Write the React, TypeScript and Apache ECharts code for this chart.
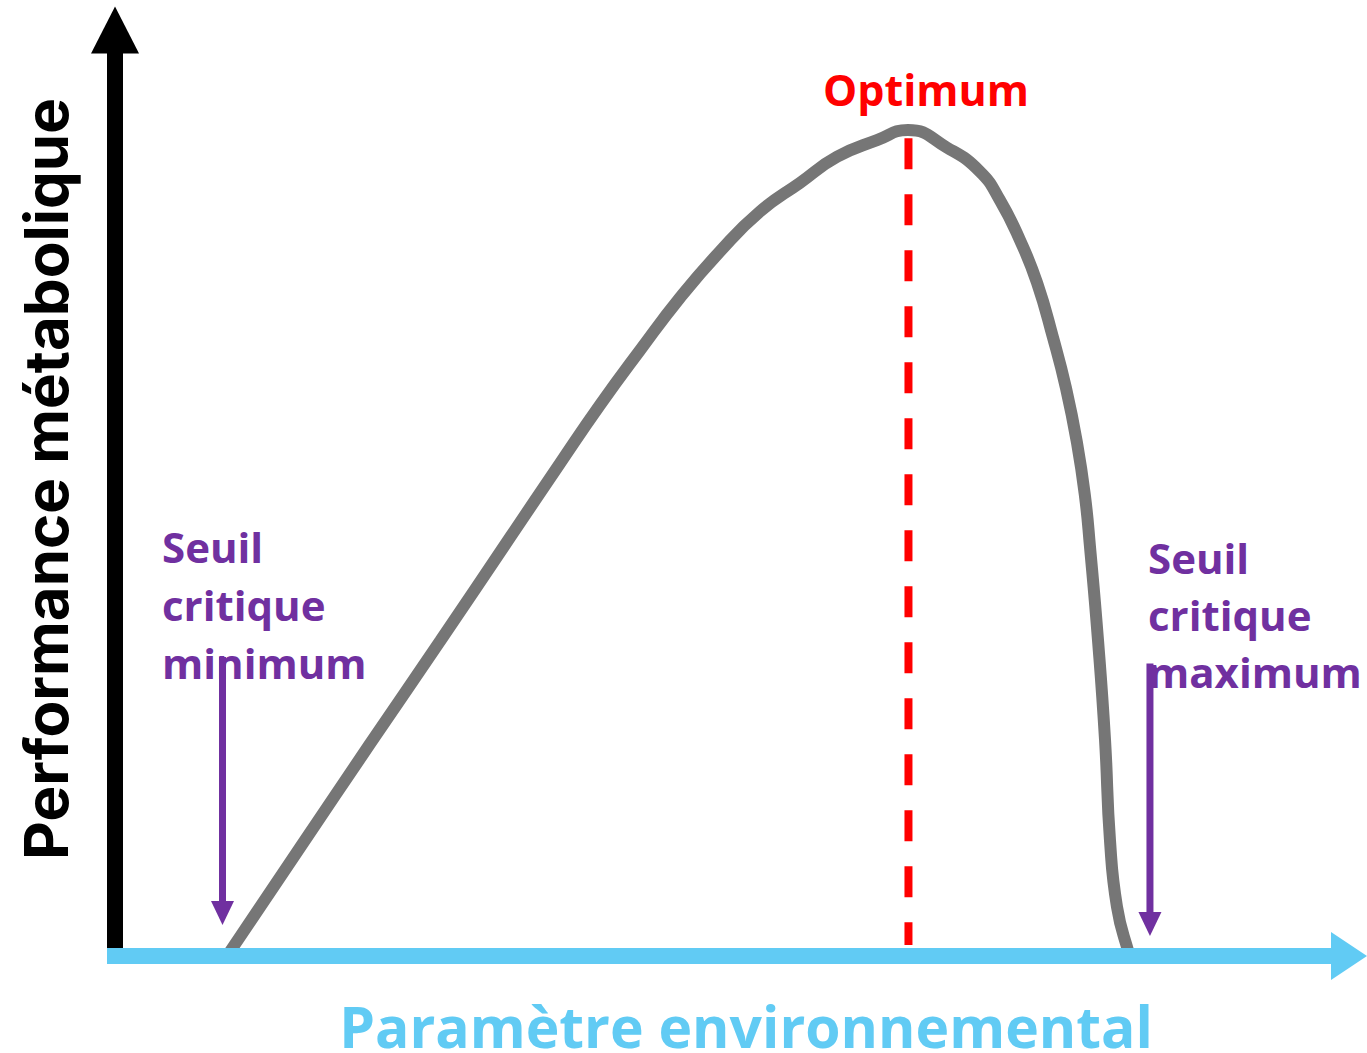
import React, { useEffect, useRef } from "react";
import * as echarts from "echarts";

// Performance curve (x: environmental parameter, y: metabolic performance), 0–100 scales
const curveX = [9.08, 14.99, 20.66, 26.34, 32.01, 36.06, 39.30, 42.54, 45.79, 49.03, 52.27, 55.51, 58.51, 61.75, 64.26, 67.42, 70.10, 71.72, 73.34, 74.72, 76.01, 77.07, 77.96, 78.61, 79.01, 79.66, 80.23, 80.63, 81.20, 82.09, 82.33];
const curveY = [0, 11.7, 22.9, 34.0, 45.2, 53.2, 59.5, 65.4, 71.1, 76.1, 80.4, 83.5, 86.3, 88.1, 89.2, 87.3, 84.7, 81.6, 77.3, 72.7, 66.8, 61.3, 55.4, 49.6, 44.2, 34.1, 23.3, 12.5, 5.3, 0.6, 0];

const optimumX = 64.3;
const optimumYRange = [88.3, 1.2];

const thresholdMinX = 8.71;
const thresholdMaxX = 83.87;
const thresholdMinY = [32.3, 4.64];
const thresholdMaxY = [31.6, 3.46];

const yTitle = "Performance métabolique";
const xTitle = "Paramètre environnemental";
const optimumLabel = "Optimum";
const minLabel = ["Seuil", "critique", "minimum"];
const maxLabel = ["Seuil", "critique", "maximum"];

const PURPLE = "#7030A0";
const BLUE = "#61CBF4";
const GRAY = "#767676";
const RED = "#FF0000";

export default function App() {
  const ref = useRef<HTMLDivElement>(null);
  useEffect(() => {
    if (!ref.current) return;
    const chart = echarts.init(ref.current, null, { renderer: "svg" });
    const curve = curveX.map((x, i) => [x, curveY[i]]);
    const purpleFont = "bold 42px 'Open Sans'";
    const textEls: any[] = [];
    minLabel.forEach((t, i) => {
      textEls.push({
        type: "text",
        x: 162,
        y: 546 + i * 58,
        z: 20,
        style: { text: t, font: purpleFont, fill: PURPLE, align: "left", verticalAlign: "middle" },
      });
    });
    maxLabel.forEach((t, i) => {
      textEls.push({
        type: "text",
        x: 1148,
        y: 557 + i * 57,
        z: 20,
        style: { text: t, font: purpleFont, fill: PURPLE, align: "left", verticalAlign: "middle" },
      });
    });
    chart.setOption({
      animation: false,
      backgroundColor: "#ffffff",
      grid: { left: 107, right: 18, top: 30, bottom: 97, containLabel: false },
      xAxis: {
        type: "value",
        min: -0.65,
        max: 100,
        z: 10,
        axisLine: {
          show: true,
          onZero: true,
          symbol: ["none", "triangle"],
          symbolSize: [48, 36],
          lineStyle: { color: BLUE, width: 16, cap: "butt" },
        },
        axisTick: { show: false },
        axisLabel: { show: false },
        splitLine: { show: false },
      },
      yAxis: {
        type: "value",
        min: 0,
        max: 100,
        z: 5,
        axisLine: {
          show: true,
          onZero: true,
          symbol: ["none", "triangle"],
          symbolSize: [48, 47],
          lineStyle: { color: "#000000", width: 16, cap: "butt" },
        },
        axisTick: { show: false },
        axisLabel: { show: false },
        splitLine: { show: false },
      },
      series: [
        {
          type: "line",
          data: curve,
          smooth: 0.5,
          showSymbol: false,
          symbol: "none",
          z: 3,
          lineStyle: { color: GRAY, width: 12 },
        },
        {
          type: "line",
          data: [[optimumX, optimumYRange[0]], [optimumX, optimumYRange[1]]],
          symbol: "none",
          z: 4,
          lineStyle: { color: RED, width: 8, type: [31, 25] },
        },
        {
          type: "line",
          data: [[thresholdMinX, thresholdMinY[0]], [thresholdMinX, thresholdMinY[1]]],
          symbol: "none",
          z: 4,
          lineStyle: { color: PURPLE, width: 7 },
        },
        {
          type: "line",
          data: [[thresholdMaxX, thresholdMaxY[0]], [thresholdMaxX, thresholdMaxY[1]]],
          symbol: "none",
          z: 4,
          lineStyle: { color: PURPLE, width: 7 },
        },
        {
          type: "scatter",
          data: [[thresholdMinX, thresholdMinY[1]], [thresholdMaxX, thresholdMaxY[1]]],
          symbol: "triangle",
          symbolRotate: 180,
          symbolSize: [23, 24],
          z: 4,
          itemStyle: { color: PURPLE, opacity: 1 },
        },
      ],
      graphic: [
        {
          type: "text",
          x: 46,
          y: 479,
          rotation: Math.PI / 2,
          z: 20,
          style: { text: yTitle, font: "bold 60px Inter", fill: "#000000", align: "center", verticalAlign: "middle" },
        },
        {
          type: "text",
          x: 746,
          y: 1026,
          z: 20,
          style: { text: xTitle, font: "bold 57px 'Open Sans'", fill: BLUE, align: "center", verticalAlign: "middle" },
        },
        {
          type: "text",
          x: 926,
          y: 89,
          z: 20,
          style: { text: optimumLabel, font: "bold 43px 'Open Sans'", fill: RED, align: "center", verticalAlign: "middle" },
        },
        ...textEls,
      ],
    });
    return () => chart.dispose();
  }, []);
  return <div ref={ref} style={{ width: 1367, height: 1053, position: "absolute", left: 0, top: 0 }} />;
}
